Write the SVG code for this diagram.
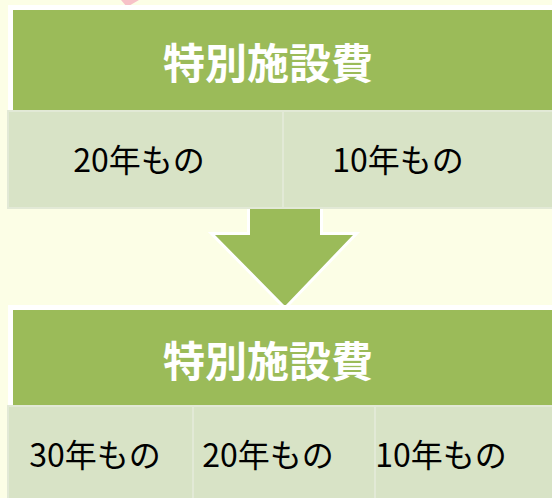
<svg xmlns="http://www.w3.org/2000/svg" width="552" height="498" viewBox="0 0 552 498">
  <style>
    .frame { fill: #ffffff; }
    .head { fill: #9bbb59; }
    .cell { fill: #d8e3c6; stroke: #e2e9d6; stroke-width: 2; }
    .title { font-family: "Noto Sans CJK JP", "Noto Sans", sans-serif; font-weight: bold; font-size: 42px; fill: #ffffff; text-anchor: middle; dominant-baseline: central; }
    .label { font-family: "Noto Sans CJK JP", "Noto Sans", sans-serif; font-size: 32px; fill: #000000; text-anchor: middle; dominant-baseline: central; }
  </style>
  <rect x="0" y="0" width="552" height="498" fill="#fcfee6"/>
  <polygon points="121,0 139,0 127,7" fill="#f7c2c8"/>

  <g id="connectors">
    <polygon points="250,206 320,206 320,235 353,235 285,306 215,235 250,235" fill="#9bbb59" stroke="#ffffff" stroke-width="6" stroke-linejoin="miter" paint-order="stroke"/>
  </g>

  <g id="top-title">
    <rect class="frame" x="8" y="5" width="560" height="106"/>
    <rect class="head" x="13" y="10" width="560" height="101"/>
    <text class="title" x="268" y="60">特別施設費</text>
  </g>
  <g id="top-cell-20">
    <rect class="cell" x="8" y="111" width="275" height="97"/>
    <text class="label" x="139" y="158">20年もの</text>
  </g>
  <g id="top-cell-10">
    <rect class="cell" x="283" y="111" width="280" height="97"/>
    <text class="label" x="398" y="158">10年もの</text>
  </g>

  <g id="bottom-title">
    <rect class="frame" x="8" y="305" width="560" height="101"/>
    <rect class="head" x="13" y="310" width="560" height="96"/>
    <text class="title" x="268" y="358">特別施設費</text>
  </g>
  <g id="bottom-cell-30">
    <rect class="cell" x="8" y="406" width="185" height="100"/>
    <text class="label" x="95" y="453">30年もの</text>
  </g>
  <g id="bottom-cell-20">
    <rect class="cell" x="193" y="406" width="182" height="100"/>
    <text class="label" x="268" y="453">20年もの</text>
  </g>
  <g id="bottom-cell-10">
    <rect class="cell" x="375" y="406" width="190" height="100"/>
    <text class="label" x="441" y="453">10年もの</text>
  </g>
</svg>
